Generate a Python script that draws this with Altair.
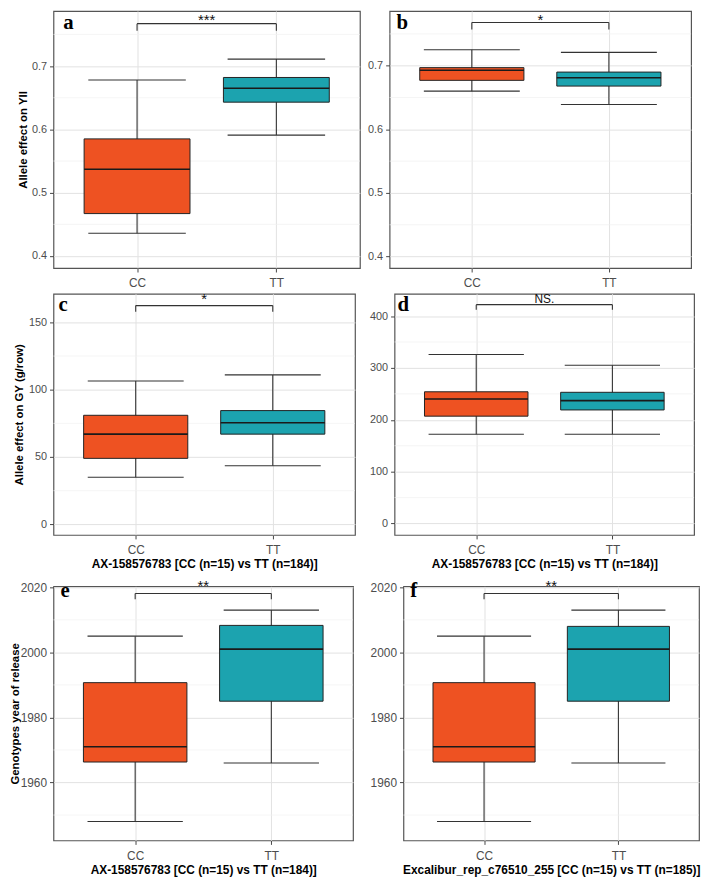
import json
import altair as alt
import pandas as pd

groups = ["CC", "TT"]
positions = [1, 2]
fill_colors = ["#EE5222", "#1CA3AF"]

# panel a: Allele effect on YII
a_low = [0.436, 0.591]
a_q1 = [0.467, 0.643]
a_med = [0.537, 0.665]
a_q3 = [0.585, 0.682]
a_high = [0.678, 0.711]

# panel b
b_low = [0.660, 0.639]
b_q1 = [0.677, 0.668]
b_med = [0.693, 0.681]
b_q3 = [0.697, 0.690]
b_high = [0.725, 0.721]

# panel c: Allele effect on GY
c_low = [35.0, 43.5]
c_q1 = [49.0, 67.0]
c_med = [67.0, 75.5]
c_q3 = [81.0, 84.5]
c_high = [106.5, 111.0]

# panel d
d_low = [172, 172]
d_q1 = [207, 219]
d_med = [240, 237]
d_q3 = [254, 253]
d_high = [326, 305]

# panel e: year of release
e_low = [1948, 1966]
e_q1 = [1966.3, 1985]
e_med = [1971, 2001]
e_q3 = [1990.7, 2008.3]
e_high = [2005, 2013]

# panel f
f_low = [1948, 1966]
f_q1 = [1966.3, 1985]
f_med = [1971, 2001]
f_q3 = [1990.7, 2008]
f_high = [2005, 2013]

tick_ab_major = [0.4, 0.5, 0.6, 0.7]
tick_ab_minor = [0.45, 0.55, 0.65, 0.75]
tick_c_major = [0, 50, 100, 150]
tick_c_minor = [25, 75, 125]
tick_d_major = [0, 100, 200, 300, 400]
tick_d_minor = [50, 150, 250, 350]
tick_ef_major = [1960, 1980, 2000, 2020]
tick_ef_minor = [1950, 1970, 1990, 2010]

x_title_ax = "AX-158576783 [CC (n=15) vs TT (n=184)]"
x_title_ex = "Excalibur_rep_c76510_255 [CC (n=15) vs TT (n=185)]"

BOX_W = 0.76
CAP_W = 0.70
FONT = "Liberation Sans"
MAJ_GRID = "#E2E2E2"
MIN_GRID = "#F0F0F0"


def panel(letter, low, q1, med, q3, high, domain, major, minor, fmt,
          sig, bracket_y, leg_y, width, height,
          ytitle=None, xtitle=None, label_size=11, letter_x=8, letter_y=17,
          sig_y=10, sig_size=15, ytitle_pad=8):
    df = pd.DataFrame({
        "g": groups, "x": positions, "low": low, "q1": q1, "med": med,
        "q3": q3, "high": high, "fill": fill_colors,
    })
    df["bx1"] = df["x"] - BOX_W / 2
    df["bx2"] = df["x"] + BOX_W / 2
    df["cx1"] = df["x"] - CAP_W / 2
    df["cx2"] = df["x"] + CAP_W / 2

    yaxis = alt.Axis(
        values=major, format=fmt, labelOverlap=False,
        gridColor=MAJ_GRID, gridWidth=1, tickColor="#444444",
        tickSize=4, labelPadding=3, labelFontSize=label_size, labelColor="#4D4D4D",
        domain=False, title=ytitle if ytitle else None, titleFontSize=11.5,
        titleFontWeight="bold", titleColor="#000000", titlePadding=ytitle_pad,
    )
    xaxis = alt.Axis(
        values=positions, labelOverlap=False,
        labelExpr=f"{json.dumps(groups)}[datum.value - 1]",
        gridColor=MAJ_GRID, tickColor="#444444", tickSize=4, labelPadding=6,
        labelFontSize=12, labelColor="#4D4D4D", domain=False,
        title=xtitle if xtitle else None, titleFontSize=12, titleFontWeight="bold",
        titleColor="#000000", titlePadding=3,
    )
    xs = alt.Scale(domain=[0.4, 2.6], nice=False, zero=False)
    ys = alt.Scale(domain=domain, nice=False, zero=False)

    minor_grid = alt.Chart(pd.DataFrame({"v": minor})).mark_rule(
        color=MIN_GRID, strokeWidth=0.7).encode(y=alt.Y("v:Q", scale=ys, axis=yaxis))

    base = alt.Chart(df)
    whisk = base.mark_rule(color="#333333", strokeWidth=1.1).encode(
        x=alt.X("x:Q", scale=xs, axis=xaxis),
        y=alt.Y("low:Q", scale=ys, axis=yaxis),
        y2="high:Q",
    )
    caps_lo = base.mark_rule(color="#333333", strokeWidth=1.1).encode(
        x="cx1:Q", x2="cx2:Q", y="low:Q")
    caps_hi = base.mark_rule(color="#333333", strokeWidth=1.1).encode(
        x="cx1:Q", x2="cx2:Q", y="high:Q")
    box = base.mark_rect(stroke="#222222", strokeWidth=1).encode(
        x="bx1:Q", x2="bx2:Q", y="q1:Q", y2="q3:Q",
        fill=alt.Fill("fill:N", scale=None),
    )
    medl = base.mark_rule(color="#1A1A1A", strokeWidth=1.6).encode(
        x="bx1:Q", x2="bx2:Q", y="med:Q")

    br = pd.DataFrame({"x1": [positions[0]], "x2": [positions[1]],
                       "yb": [bracket_y], "yl": [leg_y],
                       "xm": [(positions[0] + positions[1]) / 2], "s": [sig]})
    bbase = alt.Chart(br)
    bar = bbase.mark_rule(color="#333333", strokeWidth=1.1).encode(
        x="x1:Q", x2="x2:Q", y="yb:Q")
    leg1 = bbase.mark_rule(color="#333333", strokeWidth=1.1).encode(
        x="x1:Q", y="yl:Q", y2="yb:Q")
    leg2 = bbase.mark_rule(color="#333333", strokeWidth=1.1).encode(
        x="x2:Q", y="yl:Q", y2="yb:Q")
    sig_txt = bbase.mark_text(
        fontSize=sig_size if sig != "NS." else 12, color="#111111",
        baseline="alphabetic", align="center", fontWeight="normal",
    ).encode(x="xm:Q", y=alt.value(sig_y), text="s:N")

    let = alt.Chart(pd.DataFrame({"t": [letter]})).mark_text(
        font="Liberation Serif", fontWeight="bold", fontSize=21,
        align="left", baseline="alphabetic", color="#000000",
    ).encode(x=alt.value(letter_x), y=alt.value(letter_y), text="t:N")

    return alt.layer(minor_grid, whisk, caps_lo, caps_hi, box, medl, bar, leg1,
                     leg2, sig_txt, let).properties(width=width, height=height)


pa = panel("a", a_low, a_q1, a_med, a_q3, a_high, [0.381, 0.787],
           tick_ab_major, tick_ab_minor, ".1f", "***", 0.767, 0.756,
           310, 260, ytitle="Allele effect on YII", sig_y=14, letter_x=10,
           letter_y=18, ytitle_pad=3)
pb = panel("b", b_low, b_q1, b_med, b_q3, b_high, [0.382, 0.786],
           tick_ab_major, tick_ab_minor, ".1f", "*", 0.768, 0.757,
           305, 260, sig_y=14, letter_x=7, letter_y=18)
pc = panel("c", c_low, c_q1, c_med, c_q3, c_high, [-7.9, 171.3],
           tick_c_major, tick_c_minor, "d", "*", 162.5, 158,
           305, 244, ytitle="Allele effect on GY (g/row)", xtitle=x_title_ax,
           sig_y=10, letter_x=5, ytitle_pad=4)
pd_ = panel("d", d_low, d_q1, d_med, d_q3, d_high, [-22, 443],
            tick_d_major, tick_d_minor, "d", "NS.", 422, 412,
            303, 244, xtitle=x_title_ax, sig_y=9, letter_x=3)
pe = panel("e", e_low, e_q1, e_med, e_q3, e_high, [1942.2, 2020.3],
           tick_ef_major, tick_ef_minor, "d", "**", 2018.1, 2016.3,
           303, 257, ytitle="Genotypes year of release", xtitle=x_title_ax,
           label_size=12, letter_x=7, letter_y=11, sig_y=5, ytitle_pad=0)
pf = panel("f", f_low, f_q1, f_med, f_q3, f_high, [1942.2, 2020.3],
           tick_ef_major, tick_ef_minor, "d", "**", 2018.1, 2016.3,
           299, 257, xtitle=x_title_ex, label_size=12, letter_x=7, letter_y=11,
           sig_y=5)

row1 = alt.hconcat(pa, pb, spacing=6)
row2 = alt.hconcat(pc, pd_, spacing=13)
row3 = alt.hconcat(pe, pf, spacing=15)

top_two = alt.vconcat(row1, row2, spacing=1)
chart = alt.vconcat(top_two, row3, spacing=8).properties(
    padding={"left": 0, "top": -3, "right": 0, "bottom": 0}
).configure(font=FONT).configure_view(
    stroke="#555555", strokeWidth=1.2
)

chart.save("out.html", embed_options={"renderer": "svg", "actions": False})
